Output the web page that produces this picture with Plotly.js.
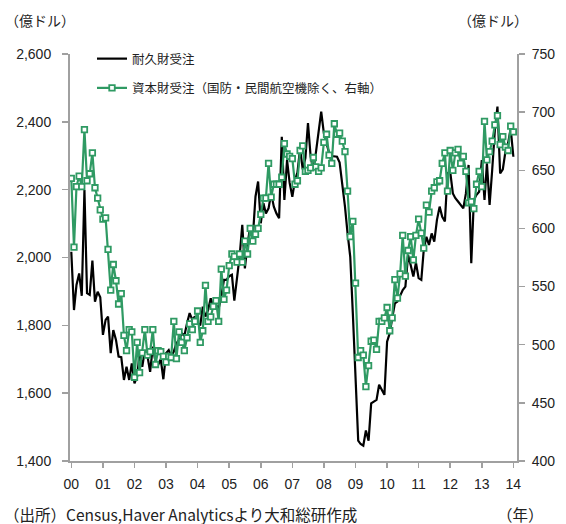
<!DOCTYPE html>
<html><head><meta charset="utf-8">
<script src="https://cdn.plot.ly/plotly-3.0.1.min.js"></script>
<style>html,body{margin:0;padding:0;background:#fff}#chart{width:566px;height:524px}</style>
</head><body><div id="chart"></div>
<script>
const startYear = 2000;
const seriesNames = ['耐久財受注', '資本財受注（国防・民間航空機除く、右軸）'];
const yearLabels = ['00','01','02','03','04','05','06','07','08','09','10','11','12','13','14'];

// 耐久財受注（億ドル, left axis), monthly from Jan 2000
const durableGoods = [
  2017, 1845, 1919, 1953, 1887, 2199, 1895, 1890, 1991, 1870, 1899, 1883,
  1772, 1816, 1826, 1718, 1786, 1757, 1708, 1706, 1639, 1678, 1639, 1688,
  1629, 1649, 1718, 1678, 1727, 1708, 1663, 1737, 1693, 1683, 1700, 1641,
  1718, 1727, 1708, 1723, 1747, 1757, 1777, 1769, 1806, 1836, 1816, 1826,
  1807, 1800, 1855, 1826, 1845, 1880, 1855, 1860, 1850, 1885, 1934, 1934,
  1945, 1949, 1873, 1944, 2003, 2096, 1968, 2040, 2091, 2060, 2180, 2224,
  2101, 2160, 2130, 2145, 2189, 2150, 2130, 2116, 2356, 2170, 2287, 2220,
  2179, 2229, 2250, 2322, 2260, 2293, 2396, 2297, 2258, 2310, 2376, 2430,
  2366, 2340, 2309, 2299, 2298, 2297, 2280, 2219, 2150, 2071, 2002, 1835,
  1620, 1460, 1450, 1445, 1490, 1460, 1570, 1575, 1580, 1625, 1610, 1595,
  1752, 1777, 1821, 1865, 1870, 1885, 1904, 1914, 2007, 1978, 1944, 1985,
  1939, 1934, 2022, 2061, 2037, 2071, 2047, 2111, 2150, 2120, 2106, 2248,
  2253, 2189, 2175, 2165, 2155, 2145, 2189, 2273, 1983, 2170, 2185, 2194,
  2287, 2170, 2278, 2155, 2258, 2376, 2445, 2248, 2260, 2312, 2337, 2380,
  2297
];

// 資本財受注（国防・民間航空機除く）（億ドル, right axis), monthly from Jan 2000
const capitalGoods = [
  643, 584, 636, 645, 636, 685, 641, 647, 665, 635, 626, 616,
  608, 609, 582, 547, 569, 555, 535, 544, 508, 495, 513, 511,
  472, 502, 476, 493, 513, 491, 494, 513, 483, 495,
  494, 490, 485, 490, 489, 520, 488, 511, 502, 495, 506, 518,
  513, 520, 529, 502, 512, 551, 520, 524, 533, 538, 520, 565,
  539, 547, 568, 578, 576, 571, 578,
  571, 589, 578, 600, 589, 595, 600, 612, 626, 626,
  656, 627, 638, 638, 638, 644, 673, 664, 662, 660,
  638, 641, 667, 671, 649, 650, 652, 661, 653, 649,
  652, 674, 681, 663, 656, 690, 681, 682, 675, 666,
  632, 593, 606, 553, 489, 495, 491, 464, 482, 503,
  504, 496, 520, 520, 523, 532, 512, 523, 556, 540,
  561, 594, 559, 581, 593, 573, 594, 608, 596, 583,
  620, 614, 632, 635, 640, 641, 656, 665, 632, 667,
  650, 665, 668, 656, 662, 649, 622, 623, 617, 638,
  649, 636, 692, 659, 666, 675, 689, 697, 672, 679,
  670, 667, 688, 683
];

const monthDates = durableGoods.map((_, i) => {
  const y = startYear + Math.floor(i / 12);
  const m = (i % 12) + 1;
  return `${y}-${String(m).padStart(2, '0')}-01`;
});
const tickVals = yearLabels.map((_, k) => `${startYear + k}-01-01`);

// plot area in pixels (for placing text annotations)
const L = 70, R = 517, T = 54, B = 461;
const px = v => (v - L) / (R - L);
const py = v => (B - v) / (B - T);

const axisGray = '#a0a0a0';
const numFont = {family: 'Liberation Sans, Arial, sans-serif', size: 14, color: '#222'};
const jpFont = {family: 'Noto Sans CJK JP, sans-serif', size: 14, color: '#222'};
const srcFont = {family: 'Noto Sans CJK JP, sans-serif', size: 15.5, color: '#222'};

const traces = [
  {
    x: monthDates, y: durableGoods, name: seriesNames[0], type: 'scatter', mode: 'lines',
    line: {color: '#000000', width: 2.2}, legendgroup: 'a', yaxis: 'y'
  },
  {
    x: monthDates, y: capitalGoods, name: seriesNames[1], type: 'scatter', mode: 'lines+markers',
    line: {color: '#2f9a63', width: 2.2},
    marker: {symbol: 'square', size: 5.5, color: '#ffffff', line: {color: '#2f9a63', width: 1.8}},
    legendgroup: 'b', yaxis: 'y2'
  }
];

const layout = {
  width: 566, height: 524,
  margin: {l: L, r: 566 - R, t: T, b: 524 - B, pad: 0},
  paper_bgcolor: '#fff', plot_bgcolor: '#fff',
  showlegend: true,
  legend: {
    x: px(92), y: py(44), xanchor: 'left', yanchor: 'top',
    bgcolor: 'rgba(0,0,0,0)', borderwidth: 0,
    font: {family: 'Noto Sans CJK JP, sans-serif', size: 12.5, color: '#222'},
    traceorder: 'grouped', tracegroupgap: 10, itemwidth: 30
  },
  xaxis: {
    type: 'date', range: ['1999-12-17', '2014-02-12'],
    tickmode: 'array', tickvals: tickVals, ticktext: yearLabels,
    ticks: 'outside', ticklen: 5, tickwidth: 1.5, tickcolor: axisGray,
    showline: true, linecolor: axisGray, linewidth: 2,
    showgrid: false, zeroline: false, tickfont: numFont, ticklabelstandoff: 4
  },
  yaxis: {
    range: [1400, 2600], tickmode: 'linear', tick0: 1400, dtick: 200, tickformat: ',',
    ticks: 'outside', ticklen: 6, tickwidth: 1.5, tickcolor: axisGray,
    showline: true, linecolor: axisGray, linewidth: 2,
    showgrid: false, zeroline: false, tickfont: numFont, ticklabelstandoff: 8
  },
  yaxis2: {
    overlaying: 'y', side: 'right', range: [400, 750], tickmode: 'linear', tick0: 400, dtick: 50,
    ticks: 'outside', ticklen: 6, tickwidth: 1.5, tickcolor: axisGray,
    showline: true, linecolor: axisGray, linewidth: 2,
    showgrid: false, zeroline: false, tickfont: numFont, ticklabelstandoff: 4
  },
  annotations: [
    {text: '（億ドル）', xref: 'paper', yref: 'paper', x: px(3), y: py(20), xanchor: 'left', yanchor: 'middle', showarrow: false, font: jpFont},
    {text: '（億ドル）', xref: 'paper', yref: 'paper', x: px(456), y: py(20), xanchor: 'left', yanchor: 'middle', showarrow: false, font: jpFont},
    {text: '（出所）Census,Haver Analyticsより大和総研作成', xref: 'paper', yref: 'paper', x: px(2), y: py(514), xanchor: 'left', yanchor: 'middle', showarrow: false, font: srcFont},
    {text: '（年）', xref: 'paper', yref: 'paper', x: px(495), y: py(514), xanchor: 'left', yanchor: 'middle', showarrow: false, font: srcFont}
  ]
};

Plotly.newPlot('chart', traces, layout, {displayModeBar: false, staticPlot: true});
</script>
</body></html>
